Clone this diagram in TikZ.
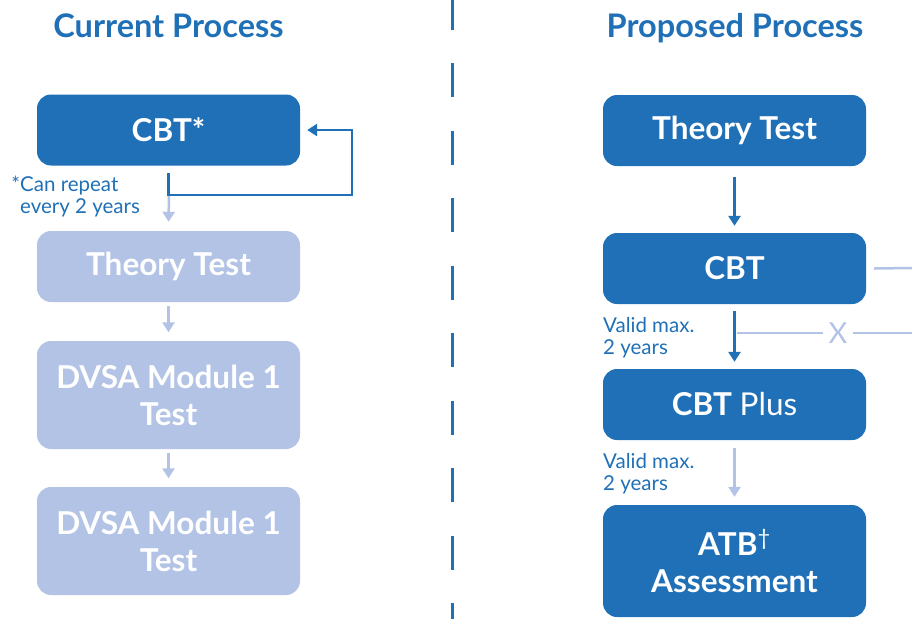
\documentclass[tikz,border=0pt]{standalone}
\usepackage{fontspec}
\setmainfont{Lato}
\usetikzlibrary{arrows.meta}
\definecolor{dvsablue}{RGB}{31,112,183}
\definecolor{dvsapale}{RGB}{179,195,230}

\begin{document}
\begin{tikzpicture}[x=1pt,y=-1pt,
    stage/.style={rounded corners=14pt, minimum width=263pt, minimum height=71pt,
      align=center, text=white, font=\fontsize{31.5}{37}\selectfont\bfseries},
    now/.style={stage, fill=dvsablue},
    old/.style={stage, fill=dvsapale},
    dk/.style={draw=dvsablue, line width=2.5pt},
    lt/.style={draw=dvsapale, line width=2.5pt},
    arr/.style={-{Triangle[width=12pt,length=10pt]}},
    note/.style={text=dvsablue, align=left, inner sep=0pt, font=\fontsize{20.5}{21.5}\selectfont},
    heading/.style={text=dvsablue, font=\fontsize{32.5}{34}\selectfont\bfseries}]
  \useasboundingbox (0,0) rectangle (912,619);
  \coordinate (divTop) at (452,0);
  \coordinate (divBot) at (452,619);
  \draw[dvsablue, line width=3pt, dash pattern=on 34pt off 33.5pt, dash phase=4.5pt] (divTop) -- (divBot);

  % current process
  \node[heading, anchor=base] (curT) at (168.5,37) {Current Process};
  \node[now] (cbtA) at (168.5,130) {CBT*};
  \node[old] (theoryA) at (168.5,266.5) {Theory Test};
  \node[old, minimum height=108pt] (modA) at (168.5,395) {DVSA Module 1\\Test};
  \node[old, minimum height=108pt] (modB) at (168.5,541) {DVSA Module 1\\Test};
  \node[note, anchor=base west] (noteA) at (20,213) {\llap{*}Can repeat\\every 2 years};

  \coordinate (splitA) at (169,195);
  \coordinate (turnA) at (352,195);
  \draw[lt, arr] (splitA) -- ([yshift=9pt]theoryA.north);
  \draw[dk, arr] ([yshift=-7pt]cbtA.south) |- (turnA) |- ([xshift=7pt]cbtA.east);
  \foreach \a/\b in {theoryA/modA, modA/modB}
    \draw[lt, arr, shorten <=4pt, shorten >=8.5pt] (\a) -- (\b);

  % proposed process
  \node[heading, anchor=base] (propT) at (735,37) {Proposed Process};
  \node[now] (theoryB) at (734.5,130.5) {Theory Test};
  \node[now] (cbtB) at (734.5,268.5) {CBT};
  \node[now] (plusB) at (734.5,404.5) {CBT \mdseries Plus};
  \node[now, minimum height=112pt] (atbB) at (734.5,561) {ATB\textsuperscript{\mdseries †}\\Assessment};
  \node[note, anchor=base west] (validA) at (603,354) {Valid max.\\2 years};
  \node[note, anchor=base west] (validB) at (603,490) {Valid max.\\2 years};

  \draw[dk, arr, shorten <=11pt, shorten >=7pt] (theoryB) -- (cbtB);
  \draw[dk, arr, shorten <=7pt, shorten >=7pt] (cbtB) -- (plusB);
  \draw[lt, arr, shorten <=8pt, shorten >=8pt] (plusB) -- (atbB);

  \coordinate (edgeA) at (912,268);
  \draw[lt] ([xshift=8pt]cbtB.east) -- (edgeA);
  \coordinate (xfrom) at (737,333);
  \coordinate (edgeB) at (912,333);
  \node[text=dvsapale, inner sep=5pt, font=\fontsize{29}{29}\selectfont] (xmark) at (838,333) {X};
  \draw[lt] (xfrom) -- (xmark) -- (edgeB);
\end{tikzpicture}
\end{document}
